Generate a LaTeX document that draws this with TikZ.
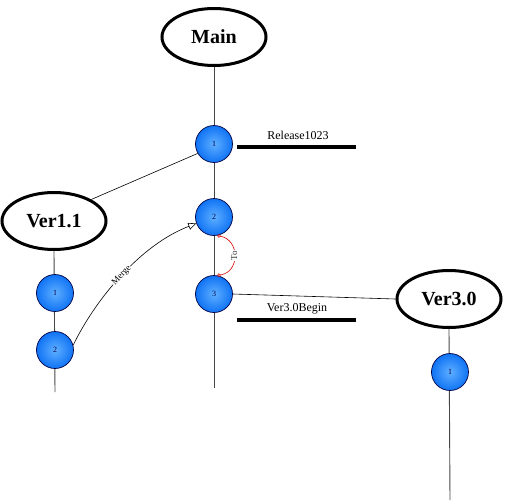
\documentclass[tikz,border=0pt]{standalone}
\usepackage{fontspec}
\setmainfont{Liberation Serif}
\usetikzlibrary{shapes.geometric,arrows.meta,shadings}
\definecolor{ballin}{RGB}{95,175,255}
\definecolor{ballout}{RGB}{15,115,245}
\definecolor{stem}{RGB}{70,70,70}
\tikzset{
  branch/.style={draw=black, line width=3pt, ellipse, minimum width=104pt, minimum height=57pt, inner sep=0pt, font=\bfseries\fontsize{20}{22}\selectfont, fill=white},
  commit/.style={circle, draw=black!75!blue, line width=0.7pt, minimum size=37pt, inner sep=0pt, shading=radial, inner color=ballin, outer color=ballout, font=\fontsize{8}{9}\selectfont, text=black!70!blue},
  stemline/.style={draw=stem, line width=0.9pt},
  link/.style={draw=black, line width=0.6pt},
  tagbar/.style={draw=black, line width=4pt},
  taglabel/.style={font=\fontsize{12}{14}\selectfont},
}
\begin{document}
\begin{tikzpicture}[x=1pt,y=-1pt]
\useasboundingbox (0,0) rectangle (506,501);
% stems
\coordinate (mainend) at (214,388);
\coordinate (v11end) at (55,392);
\coordinate (v30end) at (450,500);
\node[branch] (main) at (214,37) {Main};
\node[branch] (v11) at (54,221) {Ver1.1};
\node[branch] (v30) at (449,299) {Ver3.0};
\draw[stemline] (main.south) -- (mainend);
\draw[stemline] (v11.south) -- (v11end);
\draw[stemline] (v30.south) -- (v30end);
% commits
\node[commit] (m1) at (214,144) {1};
\node[commit] (m2) at (214,217) {2};
\node[commit] (m3) at (214,294) {3};
\node[commit] (a1) at (55,293) {1};
\node[commit] (a2) at (55,350) {2};
\node[commit] (b1) at (450,372) {1};
% links
\draw[link] (m1.210) -- (v11.30);
\draw[link] (m3.east) -- (v30.west);
% tags
\coordinate (t1a) at (237,147); \coordinate (t1b) at (356,147);
\draw[tagbar] (t1a) -- (t1b);
\node[taglabel] (t1) at (298,135) {Release1023};
\coordinate (t2a) at (237,320); \coordinate (t2b) at (356,320);
\draw[tagbar] (t2a) -- (t2b);
\node[taglabel] (t2) at (297,309) {Ver3.0Begin};
% merge
\draw[link, -{Triangle[open,length=8pt,width=7pt]}] (a2.15) .. controls (95,300) and (140,245) .. (m2.200)
  node[pos=0.5, sloped, font=\fontsize{9}{10}\selectfont, fill=white, inner sep=0.8pt] (mg) {Merge};
% To
\draw[red!85!black, line width=0.6pt, {Circle[open,length=3.5pt]}-{Circle[open,length=3.5pt]}] (m2.-80) .. controls (240,240) and (240,272) .. (m3.80)
  node[midway, rotate=90, font=\fontsize{9}{10}\selectfont, text=black!80, fill=white, inner sep=0.8pt] (to) {To};
\end{tikzpicture}
\end{document}
